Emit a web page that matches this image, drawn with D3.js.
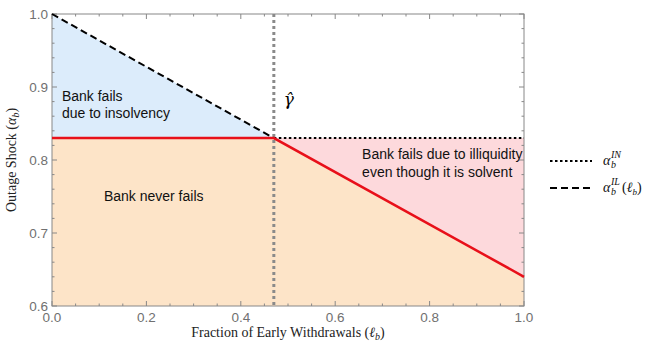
<!DOCTYPE html>
<html>
<head>
<meta charset="utf-8">
<script src="https://cdn.jsdelivr.net/npm/d3@7"></script>
<style>
  body { margin: 0; background: #fff; }
  svg { display: block; }
</style>
</head>
<body>
<svg id="chart" width="650" height="346"></svg>
<script>
// values
const gammaHat = 0.47;
const alphaIN = 0.83;
const ilCurve = [[0, 1.0], [0.47, 0.83], [1.0, 0.64]];   // alpha_IL(l_b)
const xTicks = [0, 0.2, 0.4, 0.6, 0.8, 1.0];
const yTicks = [0.6, 0.7, 0.8, 0.9, 1.0];
const regionLabels = [
  { lines: ['Bank fails', 'due to insolvency'], x: 0.021, y: 0.881 },
  { lines: ['Bank never fails'], x: 0.11, y: 0.744 },
  { lines: ['Bank fails due to illiquidity', 'even though it is solvent'], x: 0.657, y: 0.801 }
];

const svg = d3.select('#chart');
const margin = { top: 14, left: 52, right: 126, bottom: 40 };
const W = 650, H = 346;
const innerW = W - margin.left - margin.right;
const innerH = H - margin.top - margin.bottom;

const x = d3.scaleLinear().domain([0, 1]).range([margin.left, margin.left + innerW]);
const y = d3.scaleLinear().domain([0.6, 1.0]).range([margin.top + innerH, margin.top]);

const area = d3.line().x(d => x(d[0])).y(d => y(d[1]));

// orange: below red boundary
const redPath = [[0, alphaIN], [gammaHat, alphaIN], [1, ilCurve[2][1]]];
svg.append('path')
  .attr('d', area([[0, 0.6], ...redPath, [1, 0.6]]) + 'Z')
  .attr('fill', '#fde4c8');
// blue: insolvency region
svg.append('path')
  .attr('d', area([[0, alphaIN], [0, 1.0], [gammaHat, ilCurve[1][1]]]) + 'Z')
  .attr('fill', '#dcecfb');
// pink: illiquidity region
svg.append('path')
  .attr('d', area([[gammaHat, alphaIN], [1, alphaIN], [1, ilCurve[2][1]]]) + 'Z')
  .attr('fill', '#fdd9dc');

// frame
const frameColor = '#888';
svg.append('rect')
  .attr('x', x(0)).attr('y', y(1)).attr('width', innerW).attr('height', innerH)
  .attr('fill', 'none').attr('stroke', frameColor).attr('stroke-width', 1);

// ticks on all sides, inward
const xMinor = d3.range(0, 1.0001, 0.05);
const yMinor = d3.range(0.6, 1.0001, 0.02);
const isMajor = (v, arr) => arr.some(t => Math.abs(t - v) < 1e-6);
const tg = svg.append('g').attr('stroke', frameColor).attr('stroke-width', 1);
xMinor.forEach(v => {
  const len = isMajor(v, xTicks) ? 5 : 2.5;
  tg.append('line').attr('x1', x(v)).attr('x2', x(v)).attr('y1', y(0.6)).attr('y2', y(0.6) - len);
  tg.append('line').attr('x1', x(v)).attr('x2', x(v)).attr('y1', y(1)).attr('y2', y(1) + len);
});
yMinor.forEach(v => {
  const len = isMajor(v, yTicks) ? 5 : 2.5;
  tg.append('line').attr('y1', y(v)).attr('y2', y(v)).attr('x1', x(0)).attr('x2', x(0) + len);
  tg.append('line').attr('y1', y(v)).attr('y2', y(v)).attr('x1', x(1)).attr('x2', x(1) - len);
});

// tick labels
const tickFont = '"Liberation Sans", Arial, sans-serif';
svg.append('g').selectAll('text').data(xTicks).join('text')
  .attr('x', d => x(d)).attr('y', y(0.6) + 16)
  .attr('text-anchor', 'middle').attr('font-family', tickFont).attr('font-size', 13.5)
  .attr('fill', '#707070').text(d => d3.format('.1f')(d));
svg.append('g').selectAll('text').data(yTicks).join('text')
  .attr('x', x(0) - 4).attr('y', d => y(d) + 4.5)
  .attr('text-anchor', 'end').attr('font-family', tickFont).attr('font-size', 13.5)
  .attr('fill', '#707070').text(d => d3.format('.1f')(d));

// gamma hat vertical line
svg.append('line')
  .attr('x1', x(gammaHat)).attr('x2', x(gammaHat)).attr('y1', y(1)).attr('y2', y(0.6))
  .attr('stroke', '#8a8a8a').attr('stroke-width', 3).attr('stroke-dasharray', '3,3');

// alpha IN dotted line
svg.append('line')
  .attr('x1', x(gammaHat)).attr('x2', x(1)).attr('y1', y(alphaIN)).attr('y2', y(alphaIN))
  .attr('stroke', '#000').attr('stroke-width', 2).attr('stroke-dasharray', '2.5,2.5');

// alpha IL dashed line (insolvency part)
svg.append('path')
  .attr('d', area(ilCurve.slice(0, 2)))
  .attr('fill', 'none').attr('stroke', '#000').attr('stroke-width', 2).attr('stroke-dasharray', '7,4');

// red boundary
svg.append('path')
  .attr('d', area(redPath))
  .attr('fill', 'none').attr('stroke', '#e8101a').attr('stroke-width', 2.5);

// region labels
const labelFont = '"Liberation Sans", Arial, sans-serif';
regionLabels.forEach(r => {
  const t = svg.append('text')
    .attr('x', x(r.x)).attr('y', y(r.y))
    .attr('font-family', labelFont).attr('font-size', 14).attr('fill', '#111');
  r.lines.forEach((l, i) => t.append('tspan').attr('x', x(r.x)).attr('dy', i === 0 ? 0 : 17.5).text(l));
});

// gamma hat label
svg.append('text')
  .attr('x', x(gammaHat) + 10).attr('y', y(0.875))
  .attr('font-family', '"DejaVu Serif", serif').attr('font-style', 'italic').attr('font-size', 17)
  .text('γ̂');

// axis titles
const serif = '"Liberation Serif", "Times New Roman", serif';
const xt = svg.append('text')
  .attr('x', x(0.5)).attr('y', H - 9).attr('text-anchor', 'middle')
  .attr('font-family', serif).attr('font-size', 14).attr('fill', '#222');
xt.append('tspan').text('Fraction of Early Withdrawals (');
xt.append('tspan').attr('font-style', 'italic').text('ℓ');
xt.append('tspan').attr('font-style', 'italic').attr('font-size', 10).attr('dy', 3).text('b');
xt.append('tspan').attr('dy', -3).text(')');

const yt = svg.append('text')
  .attr('transform', `translate(16,${y(0.8)}) rotate(-90)`).attr('text-anchor', 'middle')
  .attr('font-family', serif).attr('font-size', 14).attr('fill', '#222');
yt.append('tspan').text('Outage Shock (');
yt.append('tspan').attr('font-style', 'italic').text('α');
yt.append('tspan').attr('font-style', 'italic').attr('font-size', 10).attr('dy', 3).text('b');
yt.append('tspan').attr('dy', -3).text(')');

// legend
const legend = [
  { dash: '2.5,2.5', sup: 'IN', arg: false },
  { dash: '7,4', sup: 'IL', arg: true }
];
legend.forEach((d, i) => {
  const ly = 161 + i * 27;
  svg.append('line').attr('x1', 550).attr('x2', 592).attr('y1', ly).attr('y2', ly)
    .attr('stroke', '#000').attr('stroke-width', 2).attr('stroke-dasharray', d.dash);
  const g = svg.append('g').attr('font-family', serif).attr('font-style', 'italic').attr('fill', '#111');
  g.append('text').attr('x', 603).attr('y', ly + 4).attr('font-size', 14).text('α');
  g.append('text').attr('x', 611).attr('y', ly - 3).attr('font-size', 10).text(d.sup);
  g.append('text').attr('x', 611).attr('y', ly + 7).attr('font-size', 10).text('b');
  if (d.arg) {
    const t = g.append('text').attr('x', 622).attr('y', ly + 4).attr('font-size', 14);
    t.append('tspan').attr('font-style', 'normal').text('(');
    t.append('tspan').text('ℓ');
    t.append('tspan').attr('font-size', 9).attr('dy', 3).text('b');
    t.append('tspan').attr('font-style', 'normal').attr('dy', -3).text(')');
  }
});
</script>
</body>
</html>
